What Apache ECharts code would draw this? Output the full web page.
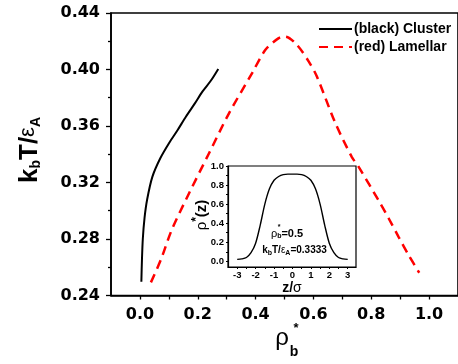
<!DOCTYPE html>
<html><head><meta charset="utf-8">
<script src="https://cdn.jsdelivr.net/npm/echarts@6/dist/echarts.min.js"></script>
<style>html,body{margin:0;padding:0;background:#fff}#c{width:458px;height:364px}</style>
</head><body><div id="c"></div>
<script>
// Main chart data
const clusterX = [0.005,0.007,0.010,0.016,0.025,0.043,0.07,0.101,0.13,0.159,0.19,0.216,0.245,0.271];
const clusterY = [0.2498,0.265,0.280,0.295,0.308,0.324,0.337,0.348,0.357,0.3666,0.376,0.3843,0.392,0.4004];
const lamellarX = [0.038,0.072,0.11,0.17,0.239,0.308,0.388,0.434,0.48,0.503,0.543,0.584,0.612,0.676,0.733,0.756,0.831,0.86,0.894,0.929,0.966];
const lamellarY = [0.2493,0.2651,0.2864,0.3124,0.3407,0.369,0.3974,0.4139,0.4222,0.4233,0.4174,0.4056,0.395,0.362,0.338,0.3312,0.3053,0.2947,0.2817,0.2687,0.2561];
const xTickLabels = [0.0,0.2,0.4,0.6,0.8,1.0];
const xTicks = [0.0,0.1,0.2,0.3,0.4,0.5,0.6,0.7,0.8,0.9,1.0];
// Inset data
const insetZ = [-3,-2.75,-2.5,-2.25,-2,-1.75,-1.5,-1.25,-1,-0.75,-0.5,-0.25,0,0.25,0.5,0.75,1,1.25,1.5,1.75,2,2.25,2.5,2.75,3];
const insetRho = [0.02,0.025,0.04,0.09,0.19,0.38,0.6,0.76,0.85,0.89,0.91,0.915,0.915,0.915,0.91,0.89,0.85,0.76,0.6,0.38,0.19,0.09,0.04,0.025,0.02];
const insetXLabels = [-3,-2,-1,0,1,2,3];
const insetXTicks = [-3,-2.5,-2,-1.5,-1,-0.5,0,0.5,1,1.5,2,2.5,3];
const insetYLabels = [0,0.2,0.4,0.6,0.8,1.0];
const insetYTicks = [0,0.1,0.2,0.3,0.4,0.5,0.6,0.7,0.8,0.9,1.0];

const zip = (a,b)=>a.map((v,i)=>[v,b[i]]);
const F = 'Liberation Sans, Arial, sans-serif';
const NUMF = 'DejaVu Sans, sans-serif';
const axisLineStyle = {color:'#000', width:1.6};

const chart = echarts.init(document.getElementById('c'), null, {renderer:'canvas'});
chart.setOption({
  animation:false,
  backgroundColor:'#fff',
  grid:[
    {left:111, top:13, width:348, height:282.5, show:true, borderColor:'#000', borderWidth:1.6, backgroundColor:'transparent'},
    {left:228, top:166, width:128, height:101, show:true, borderColor:'#000', borderWidth:1.2, backgroundColor:'#fff', z:5}
  ],
  legend:{
    orient:'vertical', left:313, top:17, itemWidth:33, itemHeight:14, itemGap:4,
    data:['(black) Cluster','(red) Lamellar'],
    itemStyle:{opacity:0},
    textStyle:{fontFamily:F, fontWeight:'bold', fontSize:14, color:'#000', padding:[0,0,0,-3]}
  },
  xAxis:[
    {gridIndex:0, type:'value', min:-0.1, max:1.1,
     axisLine:{onZero:false, lineStyle:axisLineStyle}, splitLine:{show:false},
     axisTick:{customValues:xTicks, length:4, lineStyle:{color:'#000', width:1.3}},
     axisLabel:{customValues:xTickLabels, formatter:v=>v.toFixed(1), margin:11, fontFamily:NUMF, fontWeight:'bold', fontSize:16, color:'#000'}},
    {gridIndex:1, type:'value', min:-3.5, max:3.45, z:6,
     axisLine:{onZero:false, lineStyle:{color:'#000', width:1.2}}, splitLine:{show:false},
     axisTick:{customValues:insetXTicks, length:2, lineStyle:{color:'#000', width:1}},
     axisLabel:{customValues:insetXLabels, margin:3, fontFamily:F, fontWeight:'bold', fontSize:9.5, color:'#000'}}
  ],
  yAxis:[
    {gridIndex:0, type:'value', min:0.24, max:0.44, interval:0.04,
     axisLine:{show:true, onZero:false, lineStyle:axisLineStyle}, splitLine:{show:false},
     axisTick:{show:true, length:5, lineStyle:{color:'#000', width:1.3}},
     minorTick:{show:true, splitNumber:2, length:3, lineStyle:{color:'#000', width:1.3}},
     axisLabel:{formatter:v=>v.toFixed(2), margin:11, fontFamily:NUMF, fontWeight:'bold', fontSize:16, color:'#000'}},
    {gridIndex:1, type:'value', min:-0.06, max:1.0, z:6,
     axisLine:{show:true, onZero:false, lineStyle:{color:'#000', width:1.2}}, splitLine:{show:false},
     axisTick:{show:true, customValues:insetYTicks, length:2, lineStyle:{color:'#000', width:1}},
     axisLabel:{customValues:insetYLabels, formatter:v=>v.toFixed(1), margin:4, fontFamily:F, fontWeight:'bold', fontSize:9.5, color:'#000'}}
  ],
  series:[
    {name:'(black) Cluster', type:'line', xAxisIndex:0, yAxisIndex:0, data:zip(clusterX,clusterY),
     smooth:0.3, symbol:'none', lineStyle:{color:'#000', width:2}, itemStyle:{color:'#000'}},
    {name:'(red) Lamellar', type:'line', xAxisIndex:0, yAxisIndex:0, data:zip(lamellarX,lamellarY),
     smooth:0.3, symbol:'none', lineStyle:{color:'#ff0000', width:2.5, type:[9,6]}, itemStyle:{color:'#ff0000'}},
    {name:'inset', type:'line', xAxisIndex:1, yAxisIndex:1, data:zip(insetZ,insetRho), z:7,
     smooth:0.3, symbol:'none', lineStyle:{color:'#000', width:1.4}}
  ],
  graphic:[
    {type:'text', x:30, y:150, rotation:Math.PI/2, z:10,
     style:{text:'{m|k}{s|b}{m|T/}{e|ε}{s|A}', align:'center', verticalAlign:'middle',
       rich:{m:{fontFamily:F, fontWeight:'bold', fontSize:26, lineHeight:26, verticalAlign:'top', fill:'#000'},
             e:{fontFamily:F, fontSize:22, lineHeight:26, verticalAlign:'top', fill:'#000'},
             s:{fontFamily:F, fontWeight:'bold', fontSize:14, lineHeight:14, verticalAlign:'bottom', fill:'#000'}}},
     },
    {type:'text', x:282, y:338, z:10, style:{text:'ρ', align:'center', verticalAlign:'middle', font:'24px '+F, fill:'#000'}},
    {type:'text', x:296, y:328, z:10, style:{text:'*', align:'center', verticalAlign:'middle', font:'bold 13px '+F, fill:'#000'}},
    {type:'text', x:294, y:352, z:10, style:{text:'b', align:'center', verticalAlign:'middle', font:'bold 14px '+F, fill:'#000'}},
    // inset axis names
    {type:'text', x:292, y:288, z:10, style:{text:'{z|z/}{s|σ}', align:'center', verticalAlign:'middle',
       rich:{z:{fontFamily:F, fontWeight:'bold', fontSize:14, fill:'#000'}, s:{fontFamily:F, fontSize:14, fill:'#000'}}}},
    {type:'text', x:200, y:215, rotation:Math.PI/2, z:10, style:{text:'{r|ρ}{a|*}{z|(z)}', align:'center', verticalAlign:'middle',
       rich:{r:{fontFamily:F, fontSize:15, lineHeight:18, verticalAlign:'bottom', fill:'#000'},
             a:{fontFamily:F, fontWeight:'bold', fontSize:12, lineHeight:12, verticalAlign:'top', fill:'#000'},
             z:{fontFamily:F, fontWeight:'bold', fontSize:15, lineHeight:18, verticalAlign:'bottom', fill:'#000'}}}},
    // inset annotations
    {type:'text', x:287, y:234, z:10, style:{text:'{r|ρ}{s|b}{t|=0.5}', align:'center', verticalAlign:'middle',
       rich:{r:{fontFamily:F, fontSize:11, lineHeight:12, verticalAlign:'top', fill:'#000'},
             s:{fontFamily:F, fontWeight:'bold', fontSize:7, lineHeight:7, verticalAlign:'bottom', fill:'#000'},
             t:{fontFamily:F, fontWeight:'bold', fontSize:11, lineHeight:12, verticalAlign:'top', fill:'#000'}}}},
    {type:'text', x:279, y:227, z:10, style:{text:'*', align:'center', verticalAlign:'middle', font:'bold 7px '+F, fill:'#000'}},
    {type:'text', x:294.5, y:251, z:10, style:{text:'{m|k}{s|b}{m|T/}{e|ε}{s|A}{m|=0.3333}', align:'center', verticalAlign:'middle',
       rich:{m:{fontFamily:F, fontWeight:'bold', fontSize:10, lineHeight:12, verticalAlign:'top', fill:'#000'},
             e:{fontFamily:F, fontSize:10, lineHeight:12, verticalAlign:'top', fill:'#000'},
             s:{fontFamily:F, fontWeight:'bold', fontSize:7, lineHeight:7, verticalAlign:'bottom', fill:'#000'}}}}
  ]
});
</script></body></html>
